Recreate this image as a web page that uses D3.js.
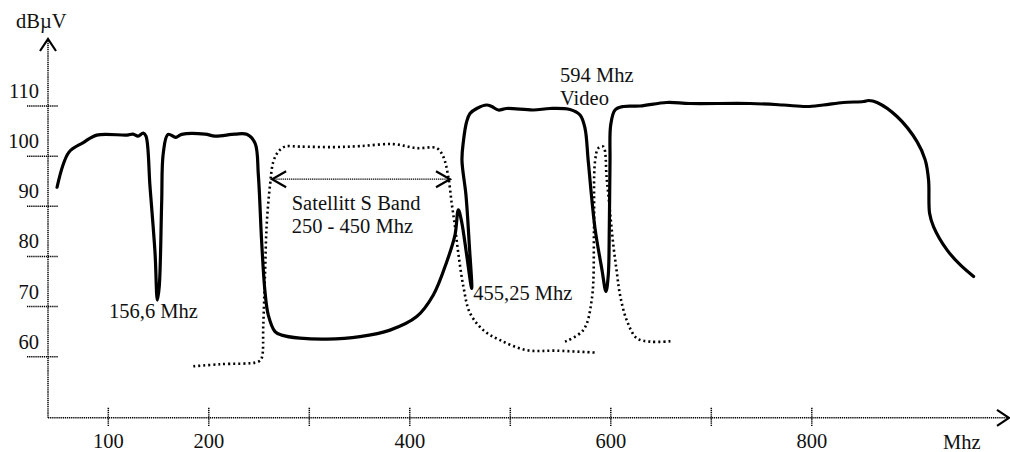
<!DOCTYPE html>
<html>
<head>
<meta charset="utf-8">
<script src="https://cdn.jsdelivr.net/npm/d3@7"></script>
<style>
  html, body { margin: 0; padding: 0; background: #fff; }
  svg { display: block; }
  text { font-family: "Liberation Serif", "Times New Roman", "DejaVu Serif", serif; font-size: 20.5px; fill: #111; }
</style>
</head>
<body>
<svg id="chart" width="1010" height="452"></svg>
<script>
// solid curve: [MHz, dBµV]
const solidFreq = [49, 60.9, 75.1, 88.5, 118.6, 124.6, 129.6, 134.8, 137.5, 141.5, 146.5, 148.8, 150.7, 153.1, 154.7,
  159.4, 167.1, 173, 196.2, 206.2, 226.1, 237.7, 246, 249.3, 252.6, 255.9, 259.2, 265.9, 272.5, 290.7, 317.3,
  350.4, 380.3, 406.9, 423.4, 436.7, 445, 448.3, 451.6, 461.6, 459.2, 455.9, 451.9, 453.3, 456.6, 459.9, 466.6,
  476.5, 481.5, 488.1, 496.4, 522.9, 539.5, 559.4, 569.4, 574.3, 577.6, 584.3, 591, 595.2, 597.5, 598.5, 599.2,
  599.9, 604.2, 612.5, 629.1, 655.6, 678.8, 738.5, 771.6, 794.9, 811.4, 831.4, 851.5, 856.5, 864.9, 884.8, 904.7,
  912.9, 916.2, 917.2, 921.2, 934.5, 947.8, 961];
const solidLevel = [93.8, 100.8, 102.7, 104.2, 104.2, 104.4, 104, 104.6, 104, 93.9, 80.7, 71.3, 74, 90.7, 100.6,
  104.35, 103.76, 104.35, 104.4, 104, 104.4, 104.35, 102.6, 96.2, 82.9, 73, 68.3, 65, 64.3, 63.7, 63.5,
  64, 65.3, 68, 72.3, 78.9, 84.3, 89.3, 86.9, 73.6, 82.3, 92.2, 99.2, 102.9, 106.9, 108.5, 109.5,
  110.2, 109.9, 109.2, 109.5, 109.2, 109.5, 109.3, 108.2, 105.6, 98.9, 85.6, 77.6, 73, 76.3, 85.6, 98.9,
  106.2, 109.2, 109.9, 110, 110.7, 110.5, 110.5, 110.2, 109.9, 110.2, 110.7, 110.9, 111.1, 110.7, 107.9, 102.9,
  99.2, 95.2, 88.6, 85.9, 81.3, 78.3, 76];

// dotted curve, satellite band part
const dotAFreq = [184.6, 211.1, 249.3, 252.6, 254.2, 255.9, 257.6, 260.9, 264.2, 269.2, 275.8, 290.7, 323.9, 350.4,
  383.6, 406.9, 426.8, 433.3, 438.3, 441.7, 445, 448.3, 453.3, 459.9, 473.1, 489.8, 516.3, 546.2, 586];
const dotALevel = [58.1, 58.5, 59, 59.7, 66.3, 76.3, 86.3, 94.2, 98.9, 100.9, 101.9, 101.9, 101.8, 102,
  102.4, 101.6, 101.6, 99.9, 95.9, 90.6, 85.9, 80.6, 74, 68.7, 65.3, 63.3, 61.3, 61.2, 60.8];

// dotted curve, 594 MHz video part
const dotBFreq = [554.4, 572.6, 581, 583.3, 584.3, 587.6, 592.5, 595.9, 599.2, 602.5, 605.9, 609.2, 615.8, 625.8, 639.1, 661];
const dotBLevel = [63, 65.3, 71.3, 85.6, 98.9, 101.6, 101.9, 95.6, 88.9, 82.3, 77, 72.3, 67.3, 63.7, 63, 63.1];

const xTicks = [100, 200, 300, 400, 500, 600, 700, 800];
const xTickLabels = [100, 200, 400, 600, 800];
const yTicks = [60, 70, 80, 90, 100, 110];

const labels = [
  { text: '156,6 Mhz', f: 100.7, v: 67.7 },
  { text: 'Satellitt S Band', f: 282.5, v: 89.3 },
  { text: '250 - 450 Mhz', f: 282.5, v: 84.6 },
  { text: '455,25 Mhz', f: 463.2, v: 71.3 },
  { text: '594 Mhz', f: 549.5, v: 114.8 },
  { text: 'Video', f: 549.5, v: 110.2 }
];
const bandArrow = { from: 263, to: 440, v: 95.4 };

const svg = d3.select('#chart');

const x = d3.scaleLinear().domain([40, 1000]).range([48, 1012.8]);
const y = d3.scaleLinear().domain([60, 110]).range([356.7, 106]);

const x0 = x(40), y0 = y(47.8);

// axes (fine dotted)
const axisStyle = (sel) => sel.attr('stroke', '#000').attr('stroke-width', 1.5).attr('stroke-dasharray', '1.3,0.8');
svg.append('line').attr('x1', x0).attr('x2', 1007).attr('y1', y0).attr('y2', y0).call(axisStyle);
svg.append('line').attr('x1', x0).attr('x2', x0).attr('y1', y0).attr('y2', 40).call(axisStyle);

// arrow heads
svg.append('path')
  .attr('d', `M${x0 - 8},${51} L${x0},${39} L${x0 + 8},${51}`)
  .attr('fill', 'none').attr('stroke', '#000').attr('stroke-width', 2.2);
svg.append('path')
  .attr('d', `M${997},${y0 - 8} L${1009},${y0} L${997},${y0 + 8}`)
  .attr('fill', 'none').attr('stroke', '#000').attr('stroke-width', 2.2);

// x ticks
xTicks.forEach((t) => {
  svg.append('line')
    .attr('x1', x(t)).attr('x2', x(t))
    .attr('y1', y0 - 10).attr('y2', y0 + 9)
    .call(axisStyle);
});
xTickLabels.forEach((t) => {
  svg.append('text').attr('x', x(t)).attr('y', 448).attr('text-anchor', 'middle').text(t);
});

// y ticks
yTicks.forEach((t) => {
  svg.append('line')
    .attr('x1', x0 - 21).attr('x2', x0 + 10)
    .attr('y1', y(t)).attr('y2', y(t))
    .call(axisStyle);
  svg.append('text').attr('x', 39).attr('y', y(t) - 8).attr('text-anchor', 'end').text(t);
});

svg.append('text').attr('x', 16).attr('y', 28).text('dBµV');
svg.append('text').attr('x', 943).attr('y', 449).text('Mhz');

const line = d3.line().x((d) => x(d[0])).y((d) => y(d[1])).curve(d3.curveCatmullRom.alpha(0.5));

const solid = solidFreq.map((f, i) => [f, solidLevel[i]]);
const dotA = dotAFreq.map((f, i) => [f, dotALevel[i]]);
const dotB = dotBFreq.map((f, i) => [f, dotBLevel[i]]);

[dotA, dotB].forEach((d) => {
  svg.append('path')
    .attr('d', line(d))
    .attr('fill', 'none')
    .attr('stroke', '#000')
    .attr('stroke-width', 2.6)
    .attr('stroke-dasharray', '2,3');
});

svg.append('path')
  .attr('d', line(solid))
  .attr('fill', 'none')
  .attr('stroke', '#000')
  .attr('stroke-width', 3.2)
  .attr('stroke-linejoin', 'round')
  .attr('stroke-linecap', 'round');

// satellite band double arrow
const ay = y(bandArrow.v), ax1 = x(bandArrow.from), ax2 = x(bandArrow.to);
svg.append('line').attr('x1', ax1).attr('x2', ax2).attr('y1', ay).attr('y2', ay)
  .attr('stroke', '#000').attr('stroke-width', 1.3).attr('stroke-dasharray', '1.3,0.8');
svg.append('path').attr('d', `M${ax1 + 14},${ay - 8} L${ax1},${ay} L${ax1 + 14},${ay + 8}`)
  .attr('fill', 'none').attr('stroke', '#000').attr('stroke-width', 2.2);
svg.append('path').attr('d', `M${ax2 - 14},${ay - 8} L${ax2},${ay} L${ax2 - 14},${ay + 8}`)
  .attr('fill', 'none').attr('stroke', '#000').attr('stroke-width', 2.2);

labels.forEach((l) => {
  svg.append('text').attr('x', x(l.f)).attr('y', y(l.v)).text(l.text);
});
</script>
</body>
</html>
